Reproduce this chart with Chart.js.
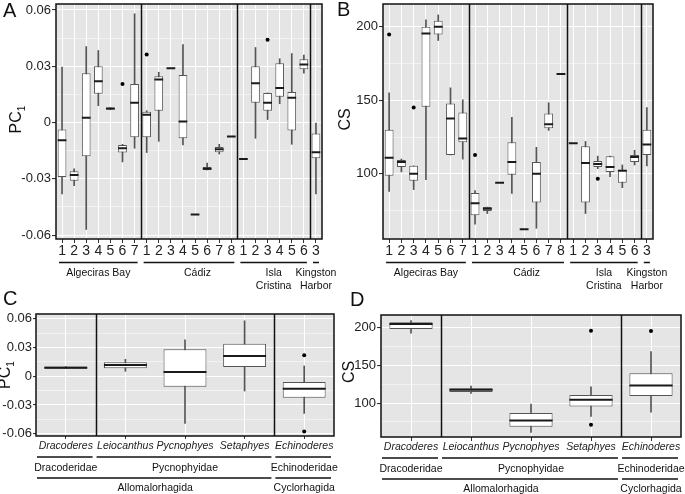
<!DOCTYPE html>
<html>
<head>
<meta charset="utf-8">
<script src="https://cdn.jsdelivr.net/npm/chart.js@4.4.1/dist/chart.umd.min.js"></script>
<style>
  body { margin: 0; background: #fff; width: 685px; height: 494px; position: relative; overflow: hidden; }
  canvas { position: absolute; }
</style>
</head>
<body>
<canvas id="pa" width="340" height="292" style="left:0px;top:0px"></canvas>
<canvas id="pb" width="355" height="292" style="left:330px;top:0px"></canvas>
<canvas id="pc" width="340" height="204" style="left:0px;top:290px"></canvas>
<canvas id="pd" width="345" height="204" style="left:340px;top:290px"></canvas>
<script>
const FONT = '"Liberation Sans", Arial, Helvetica, sans-serif';

// --- sites (panels A and B) ---
const siteLabels = ['1','2','3','4','5','6','7', '1','2','3','4','5','6','7','8', '1','2','3','4','5','6', '3'];
const siteGroups = [['Algeciras Bay'], ['Cádiz'], ['Isla', 'Cristina'], ['Kingston', 'Harbor']];
const siteGroupSizes = [7, 8, 6, 1];

// PC1 per site: whisker low, Q1, median, Q3, whisker high
const pcLow  = [-0.038, -0.0337, -0.057, 0.009, 0.0068, -0.021, -0.0137, -0.016, -0.010, 0.029, -0.012, -0.049, -0.0253, -0.0168, -0.0074, -0.0195, -0.0084, 0.0016, 0.010, -0.0116, 0.0263, -0.038];
const pcQ1   = [-0.029, -0.031, -0.018, 0.0153, 0.0068, -0.016, -0.0079, -0.0079, 0.0063, 0.029, -0.0084, -0.049, -0.0253, -0.0158, -0.0074, -0.0195, 0.0105, 0.0063, 0.0137, -0.0042, 0.0284, -0.019];
const pcMed  = [-0.0095, -0.028, 0.0026, 0.022, 0.0075, -0.0137, 0.0105, 0.0042, 0.023, 0.029, 0.0005, -0.049, -0.0247, -0.0142, -0.0074, -0.0195, 0.021, 0.0105, 0.0184, 0.0132, 0.031, -0.0158];
const pcQ3   = [-0.0037, -0.026, 0.0263, 0.030, 0.0079, -0.012, 0.0205, 0.0058, 0.0247, 0.029, 0.0253, -0.049, -0.0237, -0.013, -0.0074, -0.0195, 0.030, 0.0158, 0.0316, 0.0163, 0.0337, -0.0058];
const pcHigh = [0.0295, -0.0247, 0.0405, 0.0384, 0.0079, -0.0116, 0.058, 0.0063, 0.0268, 0.029, 0.0415, -0.049, -0.0216, -0.0116, -0.0074, -0.0195, 0.040, 0.0158, 0.034, 0.0368, 0.036, 0.0];
const pcOutSite = [5, 7, 17];
const pcOutVal  = [0.0205, 0.0363, 0.0442];

// CS per site
const csLow  = [88, 101.3, 89.3, 96, 190.6, 112.8, 110, 65.8, 73, 94, 86.7, 62.4, 63, 129.5, 167.8, 120.8, 73, 103.5, 98, 90.6, 106, 105.4];
const csQ1   = [98.7, 104.7, 95.3, 145.6, 194.6, 112.8, 121.5, 71.8, 74.7, 94, 99.3, 62.4, 80.5, 131, 167.8, 120.8, 80.5, 104.7, 101.3, 94, 108, 112.8];
const csMed  = [111, 108, 100, 195.3, 200, 137.6, 124, 80, 76.3, 94, 108, 62.4, 100, 133.6, 167.8, 120.8, 107.4, 106.7, 104.7, 102, 111.4, 120];
const csQ3   = [130, 109.4, 105.4, 200, 204, 147.7, 141.6, 87, 77.4, 94, 121.5, 62.4, 108, 141, 167.8, 120.8, 118.8, 108.7, 112, 102.7, 112.8, 130];
const csHigh = [155, 110, 105.4, 204.7, 208, 158.4, 150.3, 88.6, 77.4, 94, 138.3, 62.4, 118, 148.3, 167.8, 120.8, 122, 112, 112, 106, 116, 145];
const csOutSite = [0, 2, 7, 17];
const csOutVal  = [194.6, 145, 112.8, 96.6];

// --- taxa (panels C and D) ---
const taxa = ['Dracoderes', 'Leiocanthus', 'Pycnophyes', 'Setaphyes', 'Echinoderes'];
const families = [['Dracoderidae'], ['Pycnophyidae'], ['Echinoderidae']];
const familySizes = [1, 3, 1];
const orders = [['Allomalorhagida'], ['Cyclorhagida']];
const orderSizes = [4, 1];

const pcTaxLow  = [0.008, 0.0052, -0.0493, -0.0154, -0.0388];
const pcTaxQ1   = [0.008, 0.0084, -0.0108, 0.0098, -0.0223];
const pcTaxMed  = [0.009, 0.0119, 0.0045, 0.0213, -0.0129];
const pcTaxQ3   = [0.0102, 0.0147, 0.0283, 0.0339, -0.006];
const pcTaxHigh = [0.0102, 0.0178, 0.038, 0.058, 0.0108];
const pcTaxOutTaxon = [4, 4];
const pcTaxOutVal   = [0.022, -0.0577];

const csTaxLow  = [192.6, 112.7, 61.1, 82.3, 88];
const csTaxQ1   = [198.3, 114.6, 68.7, 95.5, 109.3];
const csTaxMed  = [205, 117.6, 77, 104.4, 123.3];
const csTaxQ3   = [207.1, 119.8, 86.8, 110.6, 139.7];
const csTaxHigh = [209.3, 122.5, 98.7, 121.6, 168.3];
const csTaxOutTaxon = [3, 3, 4];
const csTaxOutVal   = [196, 71.3, 195.6];

// y ticks (blank label = minor grid line)
const pcTicks = [-0.06, -0.045, -0.03, -0.015, 0, 0.015, 0.03, 0.045, 0.06];
const pcTickLabels = ['-0.06', '', '-0.03', '', '0', '', '0.03', '', '0.06'];
const csTicks = [75, 100, 125, 150, 175, 200];
const csTickLabels = ['', '100', '', '150', '', '200'];

// background, panel borders, facet separators, group labels, titles
function decor(o) {
  return {
    id: 'decor',
    beforeDraw(chart) {
      const { ctx, chartArea: a } = chart;
      ctx.save();
      ctx.fillStyle = '#e5e5e5';
      ctx.fillRect(a.left, a.top, a.width, a.height);
      ctx.restore();
    },
    afterDraw(chart) {
      const { ctx, chartArea: a, scales: { x } } = chart;
      const px = v => x.getPixelForValue(v);
      ctx.save();
      ctx.strokeStyle = '#111';
      ctx.lineWidth = 1.5;

      // separators
      let n = 0;
      o.sepSizes.slice(0, -1).forEach(sz => {
        n += sz;
        const sx = Math.round(px(n - 0.5)) + 0.5;
        ctx.beginPath(); ctx.moveTo(sx, a.top); ctx.lineTo(sx, a.bottom); ctx.stroke();
      });
      ctx.strokeRect(a.left, a.top, a.width, a.height);

      // group rows under the axis
      ctx.fillStyle = '#111';
      ctx.textAlign = 'center';
      ctx.textBaseline = 'middle';
      ctx.font = '10.5px ' + FONT;
      o.rows.forEach(row => {
        let start = 0;
        row.sizes.forEach((sz, k) => {
          const end = start + sz - 1;
          let x1, x2;
          if (row.tight) { x1 = px(start - 0.25); x2 = px(end + 0.25); }
          else { x1 = px(start - 0.5) + 1; x2 = px(end + 0.5) - 3; }
          const ly = a.bottom + row.lineDy;
          ctx.beginPath(); ctx.moveTo(x1, ly); ctx.lineTo(x2, ly); ctx.stroke();
          const cx = (px(start) + px(end)) / 2 + (row.nudge ? row.nudge[k] * (px(1) - px(0)) : 0);
          row.names[k].forEach((t, j) => ctx.fillText(t, cx, a.bottom + row.textDy + j * 13));
          start += sz;
        });
      });

      // panel letter
      ctx.textAlign = 'left';
      ctx.font = '20px ' + FONT;
      ctx.fillText(o.letter, o.letterX, o.letterY);

      // y title, rotated, with optional subscript
      ctx.translate(o.titleX, (a.top + a.bottom) / 2 + o.titleDy);
      ctx.rotate(-Math.PI / 2);
      ctx.font = '16px ' + FONT;
      const w1 = ctx.measureText(o.title).width;
      ctx.font = '10px ' + FONT;
      const w2 = o.sub ? ctx.measureText(o.sub).width : 0;
      ctx.textAlign = 'left';
      ctx.font = '16px ' + FONT;
      ctx.fillText(o.title, -(w1 + w2) / 2, 0);
      if (o.sub) {
        ctx.font = '10px ' + FONT;
        ctx.fillText(o.sub, -(w1 + w2) / 2 + w1, 5);
      }
      ctx.restore();
    }
  };
}

function boxPanel(id, o) {
  const boxes = o.q1.map((q, i) => q === o.q3[i] ? null : [q, o.q3[i]]);
  const whiskers = o.low.map((l, i) => l === o.high[i] ? null : [l, o.high[i]]);
  const meds = o.med.map((m, i) => ({ x: i, y: m }));
  // outliers: x is already a category index, so skip parsing
  const outs = o.outAt.map((c, i) => ({ x: c, y: o.outVal[i] }));
  const halfBox = c => {
    const s = c.chart.scales.x;
    return 0.36 * (s.getPixelForValue(1) - s.getPixelForValue(0));
  };
  const major = c => o.tickLabels[c.index] !== '';

  return new Chart(document.getElementById(id), {
    type: 'bar',
    data: {
      labels: o.labels,
      datasets: [
        { type: 'line', data: outs, parsing: false, showLine: false, pointRadius: 2,
          pointBackgroundColor: '#000', pointBorderWidth: 0 },
        { type: 'line', data: meds, showLine: false, pointStyle: 'line', pointRadius: halfBox,
          pointBorderColor: '#1a1a1a', pointBorderWidth: 2 },
        { data: boxes, grouped: false, barPercentage: 0.72, categoryPercentage: 1,
          backgroundColor: '#fff', borderColor: '#555', borderWidth: 1, borderSkipped: false },
        { data: whiskers, grouped: false, barThickness: 1, backgroundColor: '#555' }
      ]
    },
    options: {
      responsive: false,
      animation: false,
      events: [],
      layout: { padding: o.pad },
      plugins: { legend: { display: false }, tooltip: { enabled: false } },
      scales: {
        x: {
          type: 'category',
          offset: true,
          border: { display: false },
          grid: { offset: false, color: '#fff', lineWidth: 1, tickLength: o.xTick, tickColor: '#333' },
          ticks: { autoSkip: false, maxRotation: 0, padding: o.xPad, color: '#222', font: o.xFont },
          afterFit: s => { s.height = o.xHeight; s.paddingLeft = 0; s.paddingRight = 0; }
        },
        y: {
          type: 'linear',
          min: o.min,
          max: o.max,
          border: { display: false },
          afterBuildTicks: s => { s.ticks = o.ticks.map(v => ({ value: v })); },
          grid: {
            color: '#fff',
            lineWidth: c => major(c) ? 1.1 : 0.5,
            tickLength: o.yTick,
            tickColor: c => major(c) ? '#333' : 'rgba(0,0,0,0)'
          },
          ticks: { autoSkip: false, padding: 1, color: '#222', font: { family: FONT, size: 13 },
                   callback: (v, i) => o.tickLabels[i] },
          afterFit: s => { s.width = o.yWidth; s.paddingTop = 0; s.paddingBottom = 0; }
        }
      }
    },
    plugins: [decor(o)]
  });
}

const siteRows = [{ names: siteGroups, sizes: siteGroupSizes, tight: true, nudge: [0, 0.7, 0, 0], lineDy: 23.5, textDy: 34.5 }];
const taxRows = [
  { names: families, sizes: familySizes, lineDy: 21, textDy: 32 },
  { names: orders, sizes: orderSizes, lineDy: 42, textDy: 52 }
];

boxPanel('pa', {
  labels: siteLabels, low: pcLow, q1: pcQ1, med: pcMed, q3: pcQ3, high: pcHigh, outAt: pcOutSite, outVal: pcOutVal,
  ticks: pcTicks, tickLabels: pcTickLabels, min: -0.0621, max: 0.0632,
  pad: { left: 0, right: 18, top: 1, bottom: 0 }, yWidth: 56, xHeight: 53, xTick: 4, yTick: 4, xPad: 0,
  xFont: { family: FONT, size: 14 },
  sepSizes: siteGroupSizes, rows: siteRows,
  letter: 'A', letterX: 3, letterY: 11, title: 'PC', sub: '1', titleX: 17, titleDy: -2
});

boxPanel('pb', {
  labels: siteLabels, low: csLow, q1: csQ1, med: csMed, q3: csQ3, high: csHigh, outAt: csOutSite, outVal: csOutVal,
  ticks: csTicks, tickLabels: csTickLabels, min: 55.7, max: 215.4,
  pad: { left: 0, right: 32, top: 1, bottom: 0 }, yWidth: 53, xHeight: 53, xTick: 4, yTick: 4, xPad: 0,
  xFont: { family: FONT, size: 14 },
  sepSizes: siteGroupSizes, rows: siteRows,
  letter: 'B', letterX: 7, letterY: 10, title: 'CS', titleX: 16, titleDy: -2
});

boxPanel('pc', {
  labels: taxa, low: pcTaxLow, q1: pcTaxQ1, med: pcTaxMed, q3: pcTaxQ3, high: pcTaxHigh, outAt: pcTaxOutTaxon, outVal: pcTaxOutVal,
  ticks: pcTicks, tickLabels: pcTickLabels, min: -0.0624, max: 0.0651,
  pad: { left: 0, right: 6, top: 24, bottom: 0 }, yWidth: 36, xHeight: 58, xTick: 3, yTick: 3, xPad: 1,
  xFont: { family: FONT, size: 10.5, style: 'italic' },
  sepSizes: familySizes, rows: taxRows,
  letter: 'C', letterX: 3, letterY: 9, title: 'PC', sub: '1', titleX: 6, titleDy: 0
});

boxPanel('pd', {
  labels: taxa, low: csTaxLow, q1: csTaxQ1, med: csTaxMed, q3: csTaxQ3, high: csTaxHigh, outAt: csTaxOutTaxon, outVal: csTaxOutVal,
  ticks: csTicks, tickLabels: csTickLabels, min: 55.0, max: 216.8,
  pad: { left: 0, right: 1, top: 25, bottom: 0 }, yWidth: 41, xHeight: 57, xTick: 4, yTick: 4, xPad: 0,
  xFont: { family: FONT, size: 10.5, style: 'italic' },
  sepSizes: familySizes, rows: taxRows,
  letter: 'D', letterX: 10, letterY: 10, title: 'CS', titleX: 10, titleDy: -4
});
</script>
</body>
</html>
